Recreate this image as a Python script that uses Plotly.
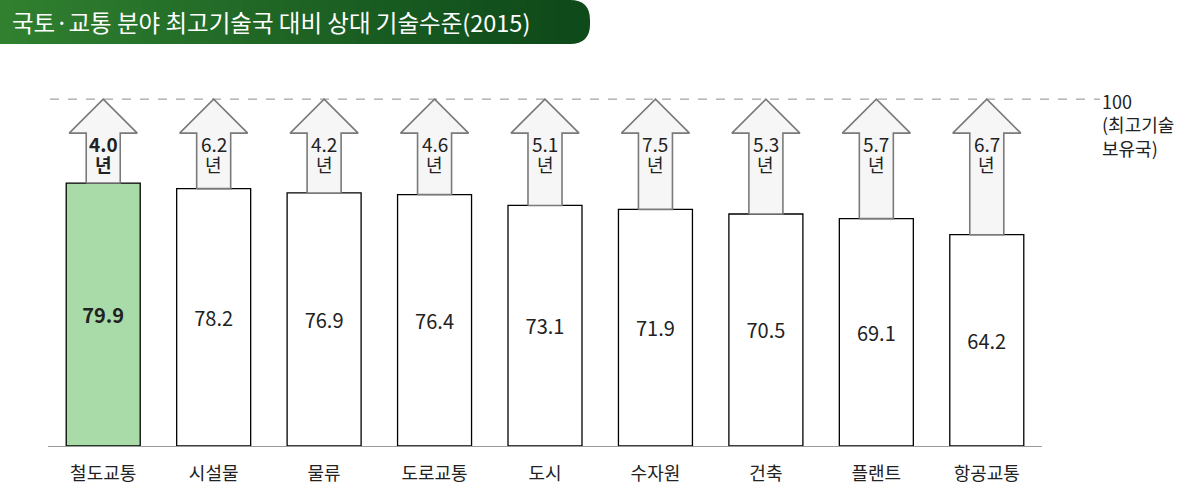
import plotly.graph_objects as go

# ---- data ----
categories = ["철도교통", "시설물", "물류", "도로교통", "도시", "수자원", "건축", "플랜트", "항공교통"]
levels = [79.9, 78.2, 76.9, 76.4, 73.1, 71.9, 70.5, 69.1, 64.2]
gap_years = [4.0, 6.2, 4.2, 4.6, 5.1, 7.5, 5.3, 5.7, 6.7]
leaders = ["독일", "일본", "미국", "미국", "미국", "미국", "미국", "미국", "미국"]
title_text = "국토·교통 분야 최고기술국 대비 상대 기술수준(2015)"
ref_label = "100<br>(최고기술<br>보유국)"
year_unit = "년"

# ---- layout constants ----
W, H = 1202, 490
ML, MR, MT, MB = 48, 160, 84, 44
PW, PH = W - ML - MR, H - MT - MB
YMAX = 110.0
PX_PER_Y = PH / YMAX
REF_LEVEL = 105.4          # drawn position of the "100" reference line
FONT = "Noto Sans CJK KR"

xs = list(range(len(categories)))

fig = go.Figure()

bar_colors = ["#a9dba9"] + ["#ffffff"] * (len(categories) - 1)
bar_text = [f"<b>{v:.1f}</b>" if i == 0 else f"{v:.1f}" for i, v in enumerate(levels)]
fig.add_trace(go.Bar(
    x=xs, y=levels, width=0.67,
    marker=dict(color=bar_colors, line=dict(color="#000000", width=1.3)),
    text=bar_text, textposition="inside", insidetextanchor="middle",
    textangle=0, constraintext="none",
    textfont=dict(family=FONT, size=20, color="#222222"),
    hoverinfo="skip", showlegend=False,
))

# arrows from bar top to reference line
sw, hw = 0.154, 0.308
hh = 34 / PX_PER_Y
for i, v in zip(xs, levels):
    px_ = [i - sw, i - sw, i - hw, i, i + hw, i + sw, i + sw, i - sw]
    py_ = [v, REF_LEVEL - hh, REF_LEVEL - hh, REF_LEVEL, REF_LEVEL - hh, REF_LEVEL - hh, v, v]
    fig.add_trace(go.Scatter(
        x=px_, y=py_, mode="lines", fill="toself", fillcolor="#f6f6f6",
        line=dict(color="#7a7a7a", width=1.6), hoverinfo="skip", showlegend=False,
    ))

annotations = []
for i, (g, c) in enumerate(zip(gap_years, leaders)):
    bold = i == 0
    num = f"<b>{g:.1f}</b>" if bold else f"{g:.1f}"
    unit = f"<b>{year_unit}</b>" if bold else year_unit
    ct = f"<b>{c}</b>" if bold else c
    annotations.append(dict(
        x=i, y=REF_LEVEL - 44 / PX_PER_Y, xref="x", yref="y", text=num, showarrow=False,
        xanchor="center", yanchor="middle",
        font=dict(family=FONT, size=19, color="#222222"),
    ))
    annotations.append(dict(
        x=i, y=REF_LEVEL - 65 / PX_PER_Y, xref="x", yref="y", text=unit, showarrow=False,
        xanchor="center", yanchor="middle",
        font=dict(family=FONT, size=18, color="#222222"),
    ))
    annotations.append(dict(
        x=i, y=(H - MB - 76) / PX_PER_Y, xref="x", yref="y", text=ct, showarrow=False,
        xanchor="center", yanchor="middle",
        font=dict(family=FONT, size=18, color="#111111"),
    ))

# reference label
annotations.append(dict(
    x=(1100 - ML) / PW, y=(H - MB - 86) / PX_PER_Y, xref="paper", yref="y",
    text=ref_label, showarrow=False, xanchor="left", yanchor="top", align="left",
    font=dict(family=FONT, size=18, color="#222222"),
))

# title text
annotations.append(dict(
    x=(10 - ML) / PW, y=1 + (MT - 22) / PH, xref="paper", yref="paper",
    text=title_text, showarrow=False, xanchor="left", yanchor="middle",
    font=dict(family=FONT, size=23.5, color="#ffffff"),
))

shapes = []
# reference dashed line
shapes.append(dict(
    type="line", xref="paper", yref="y",
    x0=(50 - ML) / PW, x1=(1100 - ML) / PW, y0=REF_LEVEL, y1=REF_LEVEL,
    line=dict(color="#8c8c8c", width=1, dash="dash"), layer="below",
))

# title banner with gradient strips
def px2x(p):
    return (p - ML) / PW

def py2y(p):
    return 1 + (MT - p) / PH

c0 = (48, 128, 48)
c1 = (14, 74, 26)
bx0, bx1, by0, by1 = 0, 590, 0, 44
rad = 20
n = 40
strip_end = bx1 - rad
for k in range(n):
    a = bx0 + (strip_end - bx0) * k / n
    b = bx0 + (strip_end - bx0) * (k + 1) / n + 0.8
    t = k / (n - 1)
    col = "rgb({},{},{})".format(*[round(c0[j] + (c1[j] - c0[j]) * t) for j in range(3)])
    shapes.append(dict(type="rect", xref="paper", yref="paper",
                       x0=px2x(a), x1=px2x(b), y0=py2y(by1), y1=py2y(by0),
                       fillcolor=col, line=dict(width=0), layer="above"))
# rounded end
xa = px2x(strip_end)
xr = px2x(bx1)
yt, yb = py2y(by0), py2y(by1)
ytr = py2y(by0 + rad)
ybr = py2y(by1 - rad)
path = (f"M {xa},{yt} L {xa},{yb} Q {xr},{yb} {xr},{ybr} "
        f"L {xr},{ytr} Q {xr},{yt} {xa},{yt} Z")
shapes.append(dict(type="path", xref="paper", yref="paper", path=path,
                   fillcolor="rgb(14,74,26)", line=dict(width=0), layer="above"))

fig.update_layout(
    width=W, height=H,
    margin=dict(l=ML, r=MR, t=MT, b=MB, autoexpand=False),
    paper_bgcolor="#ffffff", plot_bgcolor="#ffffff",
    xaxis=dict(range=[-0.5, len(categories) - 0.5], tickvals=xs, ticktext=categories,
               showgrid=False, zeroline=False, showline=True, linecolor="#9a9a9a",
               linewidth=1, ticks="", ticklabelstandoff=11, automargin=False,
               tickfont=dict(family=FONT, size=18, color="#222222"), fixedrange=True),
    yaxis=dict(range=[0, YMAX], showgrid=False, zeroline=False, showticklabels=False,
               showline=False, fixedrange=True, automargin=False),
    annotations=annotations, shapes=shapes, showlegend=False,
)

fig.write_html("out.html", config={"displayModeBar": False},
               post_script="document.body.style.margin='0';")
